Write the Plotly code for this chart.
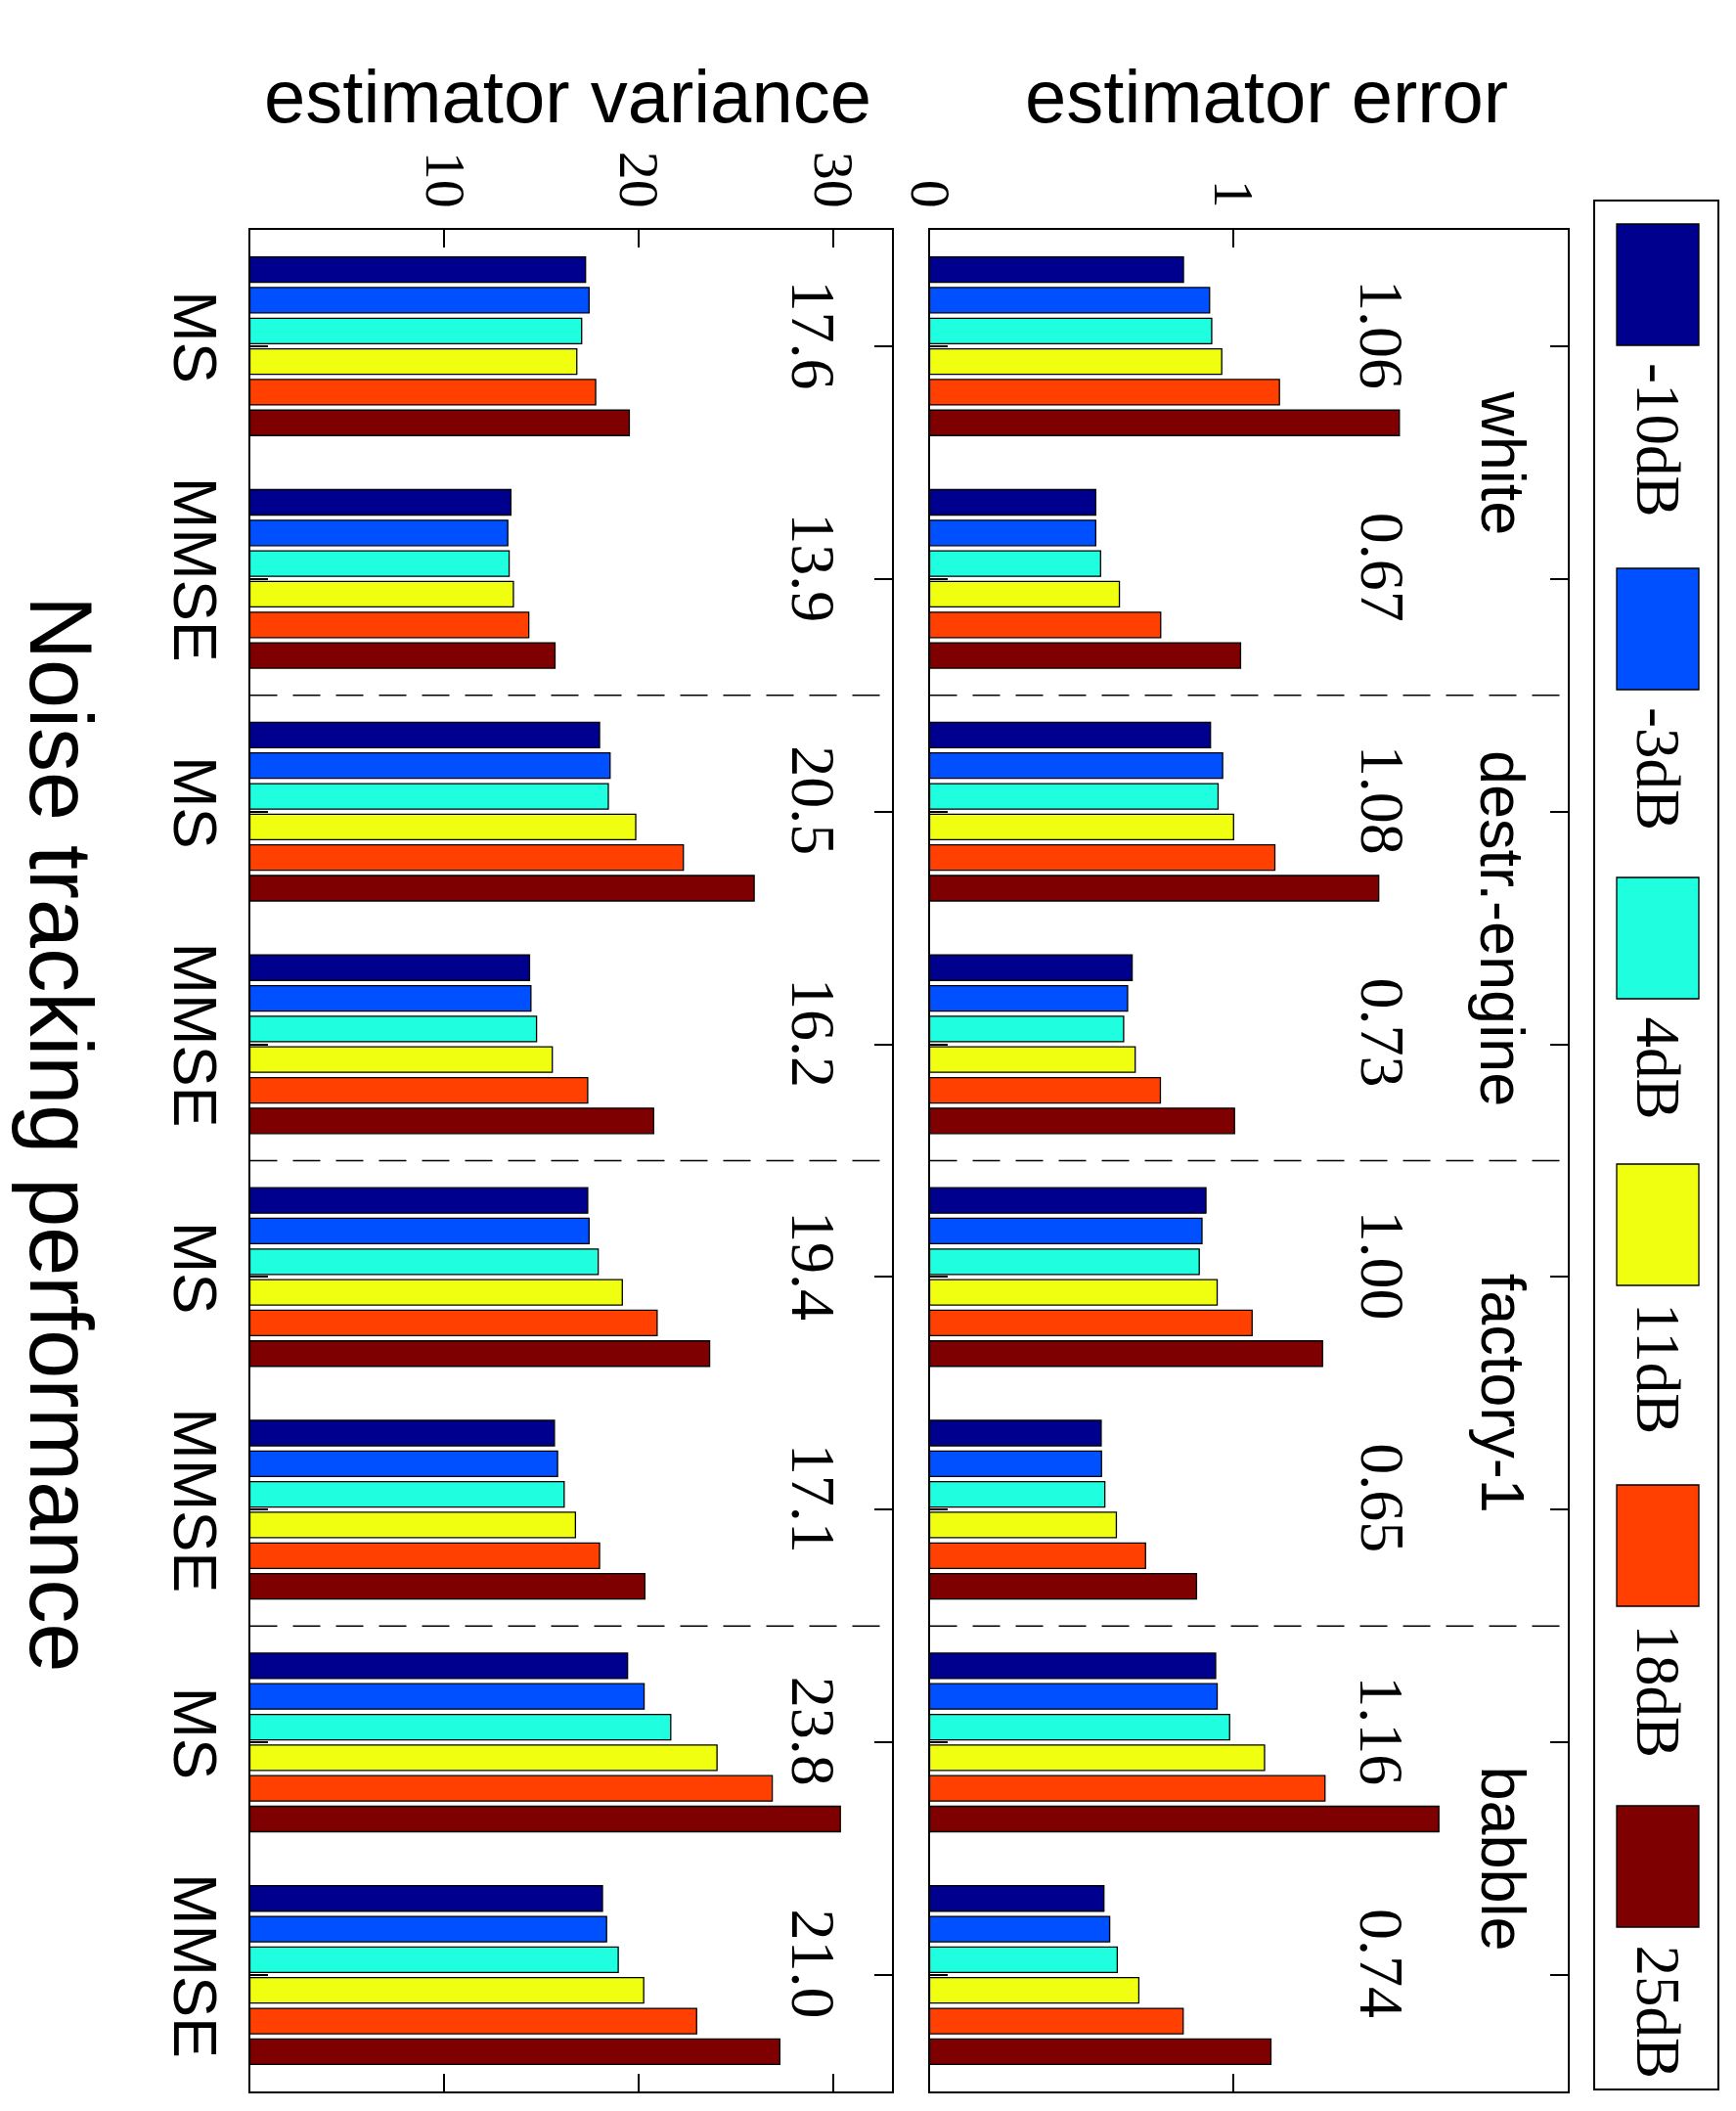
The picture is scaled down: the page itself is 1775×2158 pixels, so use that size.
import plotly.graph_objects as go

# ---------------- data ----------------
SNR_LABELS = ["-10dB", "-3dB", "4dB", "11dB", "18dB", "25dB"]
NOISE_TYPES = ["white", "destr.-engine", "factory-1", "babble"]
METHODS = ["MS", "MMSE"]

# estimator error, 8 values each: (white MS, white MMSE, destr MS, destr MMSE, factory MS, factory MMSE, babble MS, babble MMSE)
ERR_M10 = [0.836, 0.547, 0.925, 0.667, 0.910, 0.565, 0.942, 0.574]
ERR_M3 = [0.922, 0.547, 0.965, 0.652, 0.897, 0.566, 0.947, 0.593]
ERR_P4 = [0.929, 0.563, 0.950, 0.639, 0.888, 0.577, 0.988, 0.618]
ERR_P11 = [0.962, 0.625, 1.001, 0.677, 0.947, 0.615, 1.103, 0.689]
ERR_P18 = [1.152, 0.761, 1.137, 0.760, 1.062, 0.711, 1.302, 0.835]
ERR_P25 = [1.547, 1.024, 1.479, 1.004, 1.294, 0.879, 1.677, 1.124]

# estimator variance
VAR_M10 = [17.26, 13.42, 17.98, 14.38, 17.37, 15.66, 19.42, 18.13]
VAR_M3 = [17.44, 13.26, 18.52, 14.45, 17.44, 15.82, 20.27, 18.34]
VAR_P4 = [17.06, 13.33, 18.43, 14.74, 17.91, 16.16, 21.64, 18.94]
VAR_P11 = [16.81, 13.55, 19.84, 15.55, 19.15, 16.74, 24.02, 20.25]
VAR_P18 = [17.78, 14.34, 22.29, 17.37, 20.94, 17.98, 26.86, 22.97]
VAR_P25 = [19.51, 15.69, 25.93, 20.76, 23.64, 20.31, 30.36, 27.25]

ERR_MEAN_LABELS = ["1.06", "0.67", "1.08", "0.73", "1.00", "0.65", "1.16", "0.74"]
VAR_MEAN_LABELS = ["17.6", "13.9", "20.5", "16.2", "19.4", "17.1", "23.8", "21.0"]

ERR_TICKS = [0, 1]
VAR_TICKS = [10, 20, 30]

ERR_SERIES = [ERR_M10, ERR_M3, ERR_P4, ERR_P11, ERR_P18, ERR_P25]
VAR_SERIES = [VAR_M10, VAR_M3, VAR_P4, VAR_P11, VAR_P18, VAR_P25]

# ---------------- style / layout ----------------
COLORS = ["#00008F", "#0050FF", "#1FFFDF", "#EFFF0F", "#FF4000", "#7F0000"]
SANS = "Liberation Sans, Arial, Helvetica, sans-serif"
SERIF = "Liberation Serif, Times New Roman, serif"
W, H = 1775, 2158
PAGE_OFFSET = 8  # default body margin of the html page

CATEGORY_LABELS = [m for _ in NOISE_TYPES for m in METHODS]
POS = list(range(1, len(CATEGORY_LABELS) + 1))

def fx(p):
    return (p - PAGE_OFFSET) / W

def fy(p):
    return 1 - (p - PAGE_OFFSET) / H

PLOT_TOP, PLOT_BOTTOM = 235, 2138
VAR_DOMAIN = [fx(255.5), fx(911.7)]
ERR_DOMAIN = [fx(950.5), fx(1602.5)]
Y_DOMAIN = [fy(PLOT_BOTTOM), fy(PLOT_TOP)]

fig = go.Figure()

for name, color, vals in zip(SNR_LABELS, COLORS, VAR_SERIES):
    fig.add_trace(go.Bar(x=vals, y=POS, orientation="h", name=name,
                         marker=dict(color=color, line=dict(color="black", width=1.3)),
                         xaxis="x", yaxis="y", showlegend=False))
for name, color, vals in zip(SNR_LABELS, COLORS, ERR_SERIES):
    fig.add_trace(go.Bar(x=vals, y=POS, orientation="h", name=name,
                         marker=dict(color=color, line=dict(color="black", width=1.3)),
                         xaxis="x2", yaxis="y2", showlegend=False))

axis_common = dict(showline=True, linecolor="black", linewidth=2, mirror="ticks",
                   ticks="inside", ticklen=18, tickwidth=1.5, tickcolor="black",
                   showgrid=False, zeroline=False, automargin=False)

fig.update_layout(
    width=W, height=H,
    margin=dict(l=0, r=0, t=0, b=0, pad=0),
    paper_bgcolor="white", plot_bgcolor="white",
    barmode="group", bargap=0.21, bargroupgap=0.17,
    xaxis=dict(domain=VAR_DOMAIN, range=[0, 33], tickvals=VAR_TICKS, side="top",
               tickangle=90, tickfont=dict(family=SERIF, size=58, color="black"),
               anchor="y", **axis_common),
    xaxis2=dict(domain=ERR_DOMAIN, range=[0, 2.1], tickvals=ERR_TICKS, side="top",
                tickangle=90, tickfont=dict(family=SERIF, size=58, color="black"),
                anchor="y2", **axis_common),
    yaxis=dict(domain=Y_DOMAIN, range=[len(POS) + 0.5, 0.5], tickvals=POS,
               ticktext=CATEGORY_LABELS, tickangle=90,
               tickfont=dict(family=SANS, size=63, color="black"),
               anchor="x", **axis_common),
    yaxis2=dict(domain=Y_DOMAIN, range=[len(POS) + 0.5, 0.5], tickvals=POS,
                showticklabels=False, anchor="x2", **axis_common),
)

shapes = []
annotations = []

# dashed separators between noise types
for k in range(1, len(NOISE_TYPES)):
    ysep = k * len(METHODS) + 0.5
    for xr, yr in (("x domain", "y"), ("x2 domain", "y2")):
        shapes.append(dict(type="line", xref=xr, yref=yr, x0=0, x1=1, y0=ysep, y1=ysep,
                           line=dict(color="black", width=1.5, dash="28px,16px")))

# noise-type labels
for k, nt in enumerate(NOISE_TYPES):
    yc = k * len(METHODS) + (len(METHODS) + 1) / 2
    annotations.append(dict(text=nt, x=1.888, y=yc, xref="x2", yref="y2",
                            showarrow=False, textangle=90,
                            font=dict(family=SANS, size=63, color="black")))

# mean labels
for p, lab in zip(POS, ERR_MEAN_LABELS):
    annotations.append(dict(text=lab, x=1.49, y=p - 0.05, xref="x2", yref="y2",
                            showarrow=False, textangle=90,
                            font=dict(family=SERIF, size=64, color="black")))
for p, lab in zip(POS, VAR_MEAN_LABELS):
    annotations.append(dict(text=lab, x=28.97, y=p - 0.05, xref="x", yref="y",
                            showarrow=False, textangle=90,
                            font=dict(family=SERIF, size=64, color="black")))

# titles
annotations.append(dict(text="estimator variance", x=fx(580), y=fy(99), xref="paper", yref="paper",
                        showarrow=False, xanchor="center", yanchor="middle",
                        font=dict(family=SANS, size=76, color="black")))
annotations.append(dict(text="estimator error", x=fx(1295), y=fy(99), xref="paper", yref="paper",
                        showarrow=False, xanchor="center", yanchor="middle",
                        font=dict(family=SANS, size=76, color="black")))
annotations.append(dict(text="Noise tracking performance", x=fx(62), y=fy(1159), xref="paper",
                        yref="paper", showarrow=False, textangle=90, xanchor="center",
                        yanchor="middle", font=dict(family=SANS, size=90, color="black")))

# manual legend (rotated)
LEG_BOX = (1630, 205, 1757, 2136)
LEG_PATCH_TOPS = [229, 581, 897, 1190, 1518, 1846]
PATCH_H = 124
shapes.append(dict(type="rect", xref="paper", yref="paper",
                   x0=fx(LEG_BOX[0]), x1=fx(LEG_BOX[2]), y0=fy(LEG_BOX[3]), y1=fy(LEG_BOX[1]),
                   line=dict(color="black", width=2), fillcolor="white", layer="below"))
for name, color, top in zip(SNR_LABELS, COLORS, LEG_PATCH_TOPS):
    shapes.append(dict(type="rect", xref="paper", yref="paper",
                       x0=fx(1653), x1=fx(1737), y0=fy(top + PATCH_H), y1=fy(top),
                       line=dict(color="black", width=1.3), fillcolor=color))
    annotations.append(dict(text=name, x=fx(1695), y=fy(top + PATCH_H + 16), xref="paper",
                            yref="paper", showarrow=False, textangle=90, xanchor="center",
                            yanchor="top", font=dict(family=SERIF, size=63, color="black")))

fig.update_layout(shapes=shapes, annotations=annotations)

fig.write_html("out.html")
